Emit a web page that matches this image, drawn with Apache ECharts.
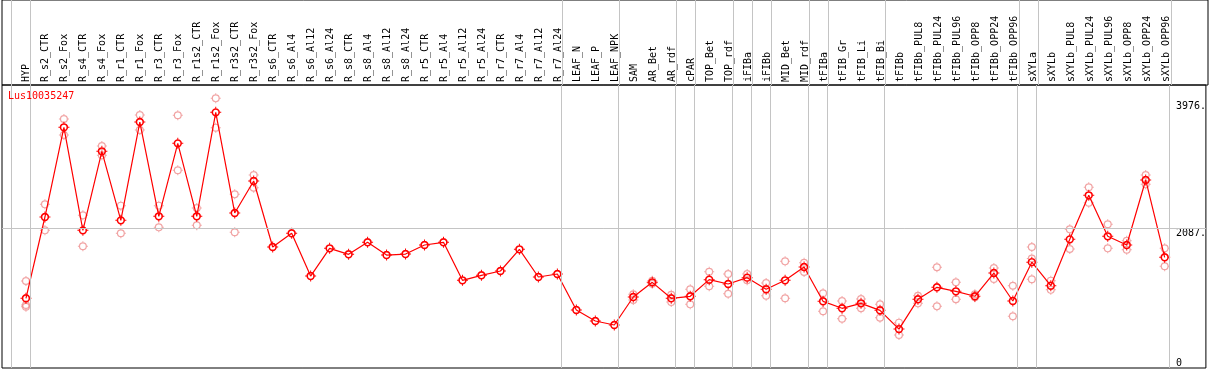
<!DOCTYPE html>
<html><head><meta charset="utf-8">
<script src="https://cdn.jsdelivr.net/npm/echarts@6/dist/echarts.min.js"></script>
<style>html,body{margin:0;padding:0;background:#fff}#c{width:1209px;height:370px}</style>
</head><body><div id="c"></div>
<script>
const chartTitle = 'Lus10035247';
const categories = ['HYP','R_s2_CTR','R_s2_Fox','R_s4_CTR','R_s4_Fox','R_r1_CTR','R_r1_Fox','R_r3_CTR','R_r3_Fox','R_r1s2_CTR','R_r1s2_Fox','R_r3s2_CTR','R_r3s2_Fox','R_s6_CTR','R_s6_Al4','R_s6_Al12','R_s6_Al24','R_s8_CTR','R_s8_Al4','R_s8_Al12','R_s8_Al24','R_r5_CTR','R_r5_Al4','R_r5_Al12','R_r5_Al24','R_r7_CTR','R_r7_Al4','R_r7_Al12','R_r7_Al24','LEAF_N','LEAF_P','LEAF_NPK','SAM','AR_Bet','AR_rdf','cPAR','TOP_Bet','TOP_rdf','iFIBa','iFIBb','MID_Bet','MID_rdf','tFIBa','tFIB_Gr','tFIB_Li','tFIB_Bi','tFIBb','tFIBb_PUL8','tFIBb_PUL24','tFIBb_PUL96','tFIBb_OPP8','tFIBb_OPP24','tFIBb_OPP96','sXYLa','sXYLb','sXYLb_PUL8','sXYLb_PUL24','sXYLb_PUL96','sXYLb_OPP8','sXYLb_OPP24','sXYLb_OPP96'];
const means = [1039,2251,3588,2052,3230,2201,3667,2261,3349,2261,3811,2311,2788,1804,2008,1371,1784,1695,1874,1684,1699,1834,1874,1307,1382,1446,1769,1357,1401,865,701,641,1058,1277,1039,1069,1317,1252,1347,1173,1307,1506,994,890,964,860,580,1024,1203,1143,1069,1416,999,1578,1227,1918,2574,1963,1834,2803,1650];
const replicates = [[1297,939,914],[2440,2052],[3712,3473],[2276,1814],[3309,3170],[2420,2008],[3771,3548],[2420,2097],[3767,2947],[2385,2127],[4020,3583],[2589,2023],[2877,2688],
[],[],[],[],[],[],[],[],[],[],[],[],[],[],[],[],[],[],[],
[1100,1015],[1300,1255],[1093,984],[1173,949],[1436,1218],[1401,1108],[1401,1307],[1267,1078],[1590,1039],[1570,1431],[1113,845],[999,735],[1029,890],[949,750],[676,492],[1078,964],[1501,919],[1277,1024],[1098,1054],[1491,1327],[1227,771],[1805,1632,1322],[1302,1165],[2067,1774],[2693,2465],[2142,1784],[1898,1764],[2877,2738],[1784,1516]];
const groupEnds = [-1,0,28,31,34,35,37,38,39,41,42,45,52,53,60];
const yTickValues = [0,2087,3976];
const yTickLabels = ['0','2087.','3976.'];
const gridLineValue = 2087;

const X_MIN = -1.2624, X_MAX = 62.172, Y_MAX = 4219;
const FONT = 'DejaVu Sans Mono';
const sepX = groupEnds.map(k => k + 0.22);
const repData = [];
replicates.forEach((arr, i) => arr.forEach(v => repData.push([i, v])));
const meanData = means.map((v, i) => [i, v]);
const yFmt = v => yTickLabels[yTickValues.indexOf(v)];
const ringMean = 'path://M0,-4.2A4.2,4.2,0,1,1,0,4.2A4.2,4.2,0,1,1,0,-4.2ZM0,-2.6A2.6,2.6,0,1,0,0,2.6A2.6,2.6,0,1,0,0,-2.6ZM-0.5,-5.5L0.5,-5.5L0.5,-3.5L-0.5,-3.5ZM-0.5,3.5L0.5,3.5L0.5,5.5L-0.5,5.5ZM-5.5,-0.5L-3.5,-0.5L-3.5,0.5L-5.5,0.5ZM3.5,-0.5L5.5,-0.5L5.5,0.5L3.5,0.5Z';
const ringRep = 'path://M0,-4A4,4,0,1,1,0,4A4,4,0,1,1,0,-4ZM0,-2.8A2.8,2.8,0,1,0,0,2.8A2.8,2.8,0,1,0,0,-2.8ZM-0.5,-5L0.5,-5L0.5,-3.5L-0.5,-3.5ZM-0.5,3.5L0.5,3.5L0.5,5L-0.5,5ZM-5,-0.5L-3.5,-0.5L-3.5,0.5L-5,0.5ZM3.5,-0.5L5,-0.5L5,0.5L3.5,0.5Z';

const chart = echarts.init(document.getElementById('c'), null, {renderer: 'canvas'});
chart.setOption({
  animation: false,
  title: {text: chartTitle, left: 8, top: 91, padding: 0,
    textStyle: {color: '#ff0000', fontSize: 10, fontFamily: FONT, fontWeight: 'normal'}},
  grid: [
    {left: 2, top: 85, width: 1206, height: 283, show: true, borderColor: '#000', borderWidth: 1, backgroundColor: 'transparent'},
    {left: 2, top: 0, width: 1206, height: 85, show: true, borderColor: '#000', borderWidth: 1, backgroundColor: 'transparent'}
  ],
  xAxis: [
    {type: 'value', gridIndex: 0, min: X_MIN, max: X_MAX, axisLine: {show: false}, axisTick: {show: false}, axisLabel: {show: false}, splitLine: {show: false}},
    {type: 'value', gridIndex: 1, min: X_MIN, max: X_MAX, position: 'bottom',
      axisLine: {show: false}, axisTick: {show: false}, splitLine: {show: false},
      axisLabel: {inside: true, rotate: 90, margin: 3, customValues: categories.map((c, i) => i),
        formatter: v => categories[Math.round(v)], fontFamily: FONT, fontSize: 10, color: '#000'}}
  ],
  yAxis: [
    {type: 'value', gridIndex: 0, min: 0, max: Y_MAX, position: 'right',
      axisLine: {show: false}, axisTick: {show: false}, splitLine: {show: false},
      axisLabel: {inside: true, align: 'left', margin: 30, verticalAlign: 'top',
        customValues: yTickValues.filter(v => v > 0), formatter: yFmt, fontFamily: FONT, fontSize: 10, color: '#000'}},
    {type: 'value', gridIndex: 0, min: 0, max: Y_MAX, position: 'right',
      axisLine: {show: false}, axisTick: {show: false}, splitLine: {show: false},
      axisLabel: {inside: true, align: 'left', margin: 30, verticalAlign: 'bottom',
        customValues: yTickValues.filter(v => v === 0), formatter: yFmt, fontFamily: FONT, fontSize: 10, color: '#000'}},
    {type: 'value', gridIndex: 1, min: 0, max: 1, show: false}
  ],
  series: [
    {type: 'scatter', xAxisIndex: 0, yAxisIndex: 0, data: repData, symbol: ringRep, symbolSize: 10,
      itemStyle: {color: '#ee8c8c'}, z: 2, silent: true,
      markLine: {silent: true, symbol: ['none', 'none'], label: {show: false}, animation: false,
        lineStyle: {color: '#c4c4c4', width: 1, type: 'solid'},
        data: sepX.map(x => ({xAxis: x})).concat([{yAxis: gridLineValue}])}},
    {type: 'line', xAxisIndex: 0, yAxisIndex: 0, data: meanData, symbol: ringMean, symbolSize: 11,
      lineStyle: {color: '#ff0000', width: 1.2}, itemStyle: {color: '#ff0000'}, z: 3, silent: true},
    {type: 'line', xAxisIndex: 1, yAxisIndex: 2, data: [], silent: true,
      markLine: {silent: true, symbol: ['none', 'none'], label: {show: false}, animation: false,
        lineStyle: {color: '#c4c4c4', width: 1, type: 'solid'},
        data: sepX.map(x => ({xAxis: x}))}}
  ]
});
</script></body></html>
